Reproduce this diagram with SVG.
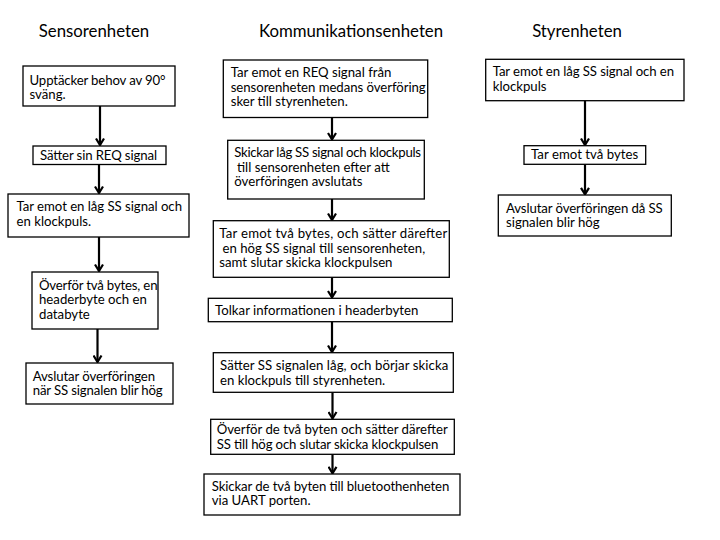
<svg xmlns="http://www.w3.org/2000/svg" width="720" height="540" viewBox="0 0 720 540">
<style>
.bg{fill:#ffffff}
.box{fill:#ffffff;stroke:#000000;stroke-width:1.3}
.t{font-family:Lato,"Liberation Sans",sans-serif;font-size:13.2px;fill:#000000}
.h{font-family:Lato,"Liberation Sans",sans-serif;font-size:16.8px;fill:#000000;text-anchor:middle}
.c{fill:none;stroke:#000000;stroke-width:2.2}
</style>
<defs>
<marker id="ah" markerUnits="userSpaceOnUse" viewBox="0 0 10 10" refX="8" refY="5" markerWidth="10" markerHeight="10" orient="auto">
<path d="M1.5,1 L8,5 L1.5,9" fill="none" stroke="#000000" stroke-width="2.2"/>
</marker>
</defs>
<rect class="bg" x="0" y="0" width="720" height="540"/>

<g id="titles">
<text class="h" x="94" y="37">Sensorenheten</text>
<text class="h" x="351" y="37">Kommunikationsenheten</text>
<text class="h" x="577" y="37">Styrenheten</text>
</g>

<g id="connectors">
<path class="c" d="M100,106 V145" marker-end="url(#ah)"/>
<path class="c" d="M99,164.5 V193" marker-end="url(#ah)"/>
<path class="c" d="M99,237 V271" marker-end="url(#ah)"/>
<path class="c" d="M97.5,329 V362" marker-end="url(#ah)"/>
<path class="c" d="M332,117.5 V139.5" marker-end="url(#ah)"/>
<path class="c" d="M332,199 V220" marker-end="url(#ah)"/>
<path class="c" d="M332,277.3 V297.5" marker-end="url(#ah)"/>
<path class="c" d="M332,321.7 V352" marker-end="url(#ah)"/>
<path class="c" d="M332.5,392.3 V418.5" marker-end="url(#ah)"/>
<path class="c" d="M332.5,454.3 V473.3" marker-end="url(#ah)"/>
<path class="c" d="M585,100.7 V145" marker-end="url(#ah)"/>
<path class="c" d="M585,164.3 V194.3" marker-end="url(#ah)"/>
</g>

<g id="L1"><rect class="box" x="23" y="66" width="152" height="40"/>
<text class="t" x="29.5" y="84.5" textLength="136">Upptäcker behov av 90°</text>
<text class="t" x="29.5" y="99">sväng.</text></g>

<g id="L2"><rect class="box" x="33" y="146" width="133" height="18.5"/>
<text class="t" x="40" y="159.5" textLength="117">Sätter sin REQ signal</text></g>

<g id="L3"><rect class="box" x="8" y="194" width="181" height="43"/>
<text class="t" x="16.5" y="211" textLength="165.5">Tar emot en låg SS signal och</text>
<text class="t" x="16.5" y="225.5">en klockpuls.</text></g>

<g id="L4"><rect class="box" x="32" y="272" width="126" height="57"/>
<text class="t" x="39" y="289.5" textLength="118.5">Överför två bytes, en</text>
<text class="t" x="39" y="304">headerbyte och en</text>
<text class="t" x="39" y="318.5">databyte</text></g>

<g id="L5"><rect class="box" x="26" y="363" width="147" height="41"/>
<text class="t" x="32.7" y="380.5" textLength="122.3">Avslutar överföringen</text>
<text class="t" x="32.7" y="395" textLength="130">när SS signalen blir hög</text></g>

<g id="M1"><rect class="box" x="223.3" y="60" width="204.4" height="57.5"/>
<text class="t" x="230.7" y="77">Tar emot en REQ signal från</text>
<text class="t" x="230.7" y="91.5" textLength="195">sensorenheten medans överföring</text>
<text class="t" x="230.7" y="106">sker till styrenheten.</text></g>

<g id="M2"><rect class="box" x="227.7" y="140.3" width="196.6" height="58.7"/>
<text class="t" x="234.3" y="157.3" textLength="186.7">Skickar låg SS signal och klockpuls</text>
<text class="t" x="237" y="171.8">till sensorenheten efter att</text>
<text class="t" x="234.3" y="186.3">överföringen avslutats</text></g>

<g id="M3"><rect class="box" x="213.3" y="220.7" width="236" height="56.6"/>
<text class="t" x="219.3" y="238" textLength="228">Tar emot två bytes, och sätter därefter</text>
<text class="t" x="222.5" y="252.5">en hög SS signal till sensorenheten,</text>
<text class="t" x="219.3" y="267">samt slutar skicka klockpulsen</text></g>

<g id="M4"><rect class="box" x="208.3" y="298.3" width="244" height="23.4"/>
<text class="t" x="215" y="315" textLength="203.3">Tolkar informationen i headerbyten</text></g>

<g id="M5"><rect class="box" x="213.3" y="352.7" width="240" height="39.6"/>
<text class="t" x="220" y="370" textLength="228.3">Sätter SS signalen låg, och börjar skicka</text>
<text class="t" x="220" y="384.5">en klockpuls till styrenheten.</text></g>

<g id="M6"><rect class="box" x="210.7" y="419.3" width="243.6" height="35"/>
<text class="t" x="216.7" y="434" textLength="231">Överför de två byten och sätter därefter</text>
<text class="t" x="216.7" y="448.8" textLength="221.6">SS till hög och slutar skicka klockpulsen</text></g>

<g id="M7"><rect class="box" x="204" y="474" width="256" height="41"/>
<text class="t" x="211.7" y="490.5" textLength="237.6">Skickar de två byten till bluetoothenheten</text>
<text class="t" x="211.7" y="505">via UART porten.</text></g>

<g id="R1"><rect class="box" x="485.7" y="59.3" width="198.3" height="41.4"/>
<text class="t" x="492.7" y="76" textLength="181.3">Tar emot en låg SS signal och en</text>
<text class="t" x="492.7" y="90.5">klockpuls</text></g>

<g id="R2"><rect class="box" x="524" y="145.7" width="121.7" height="18.6"/>
<text class="t" x="531" y="159" textLength="107.3">Tar emot två bytes</text></g>

<g id="R3"><rect class="box" x="498.3" y="195" width="173" height="41"/>
<text class="t" x="506" y="212.5" textLength="156.7">Avslutar överföringen då SS</text>
<text class="t" x="506" y="227">signalen blir hög</text></g>
</svg>
